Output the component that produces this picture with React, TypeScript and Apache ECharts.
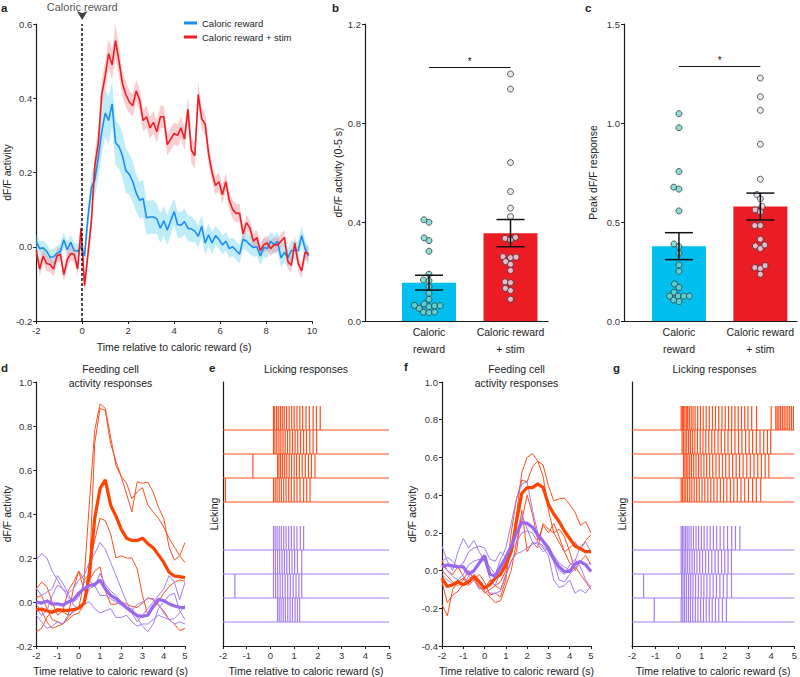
import React, { useEffect, useRef } from 'react';
import * as echarts from 'echarts';

const FONT = '"Liberation Sans", Arial, Helvetica, sans-serif';
const TXT = '#222';
const AXIS = '#1a1a1a';

// ---------------- Panel a ----------------
const aLegend = ['Caloric reward', 'Caloric reward + stim'];
const aEventLabel = 'Caloric reward';
const aXTitle = 'Time relative to caloric reward (s)';
const aYTitle = 'dF/F activity';
const aTimeStart = -2;
const aTimeStep = 0.15;
const aBlue = [
  0.014, -0.005, -0.003, -0.012, -0.028, -0.027, -0.018, -0.012, 0.019, -0.008,
  0.012, -0.01, -0.012, 0.0, -0.025, 0.08, 0.16, 0.18, 0.24, 0.31,
  0.36, 0.34, 0.385, 0.28, 0.27, 0.245, 0.205, 0.195, 0.175, 0.145,
  0.125, 0.13, 0.078, 0.08, 0.08, 0.075, 0.05, 0.07, 0.045, 0.07,
  0.095, 0.06, 0.058, 0.068, 0.05, 0.048, 0.042, 0.028, 0.055, 0.01,
  0.032, 0.01, 0.03, 0.02, 0.005, 0.015, -0.005, 0.0, -0.01, -0.02,
  0.02, 0.015, 0.005, -0.002, 0.0, -0.025, -0.002, -0.005, 0.015, 0.005,
  0.015, -0.03, -0.015, -0.03, -0.01, -0.01, -0.01, 0.03, -0.005, -0.025,
];
const aRed = [
  -0.01, -0.06, -0.025, -0.045, -0.048, -0.06, -0.025, -0.02, -0.075, -0.035,
  -0.018, -0.02, -0.06, 0.05, -0.105, -0.02, 0.07, 0.22, 0.28, 0.41,
  0.46, 0.52, 0.49, 0.555, 0.5, 0.44, 0.41, 0.39, 0.38, 0.42,
  0.395, 0.34, 0.35, 0.32, 0.335, 0.31, 0.35, 0.35, 0.275, 0.29,
  0.305, 0.3, 0.32, 0.29, 0.37, 0.26, 0.245, 0.41, 0.345, 0.33,
  0.25, 0.2, 0.165, 0.175, 0.14, 0.175, 0.125, 0.1, 0.09, 0.09,
  0.035, 0.065, 0.05, 0.015, 0.025, -0.01, 0.005, 0.01, -0.005, 0.005,
  0.005, 0.015, 0.025, -0.04, -0.05, 0.01, -0.045, -0.065, -0.015, -0.02,
];
const aBlueSem = [
  0.02, 0.02, 0.02, 0.02, 0.02, 0.02, 0.02, 0.02, 0.02, 0.02,
  0.02, 0.02, 0.02, 0.02, 0.02, 0.03, 0.035, 0.045, 0.055, 0.06,
  0.065, 0.065, 0.06, 0.06, 0.06, 0.06, 0.06, 0.055, 0.055, 0.05,
  0.05, 0.05, 0.045, 0.045, 0.045, 0.04, 0.04, 0.04, 0.04, 0.04,
  0.035, 0.035, 0.035, 0.035, 0.035, 0.035, 0.03, 0.03, 0.03, 0.03,
  0.03, 0.03, 0.025, 0.025, 0.025, 0.025, 0.025, 0.025, 0.025, 0.025,
  0.025, 0.025, 0.025, 0.025, 0.025, 0.025, 0.025, 0.025, 0.025, 0.025,
  0.025, 0.025, 0.025, 0.025, 0.025, 0.025, 0.025, 0.025, 0.025, 0.025,
];
const aRedSem = [
  0.02, 0.02, 0.02, 0.02, 0.02, 0.02, 0.02, 0.02, 0.02, 0.02,
  0.02, 0.02, 0.02, 0.03, 0.025, 0.025, 0.03, 0.035, 0.04, 0.04,
  0.04, 0.04, 0.04, 0.045, 0.04, 0.035, 0.035, 0.03, 0.03, 0.03,
  0.03, 0.03, 0.03, 0.03, 0.03, 0.03, 0.03, 0.03, 0.03, 0.03,
  0.03, 0.03, 0.03, 0.03, 0.035, 0.035, 0.035, 0.035, 0.03, 0.03,
  0.03, 0.025, 0.025, 0.025, 0.025, 0.025, 0.025, 0.025, 0.025, 0.025,
  0.02, 0.02, 0.02, 0.02, 0.02, 0.02, 0.02, 0.02, 0.02, 0.02,
  0.02, 0.02, 0.02, 0.02, 0.02, 0.02, 0.02, 0.02, 0.02, 0.02,
];
const aTime = aBlue.map((_, i) => +(aTimeStart + i * aTimeStep).toFixed(2));

// ---------------- Panels b, c ----------------
const groupLabels = ['Caloric\nreward', 'Caloric reward\n+ stim'];
const bYTitle = 'dF/F activity (0-5 s)';
const bMeans = [0.155, 0.355];
const bSem = [0.03, 0.055];
const bBlueDots = [0.399, 0.409, 0.325, 0.336, 0.282, 0.189, 0.166, 0.163, 0.139, 0.112, 0.069, 0.063, 0.058, 0.036, 0.034, 0.036, 0.051, 0.061, 0.062, 0.088];
const bRedDots = [0.998, 0.937, 0.64, 0.523, 0.456, 0.422, 0.334, 0.328, 0.338, 0.26, 0.256, 0.258, 0.229, 0.24, 0.204, 0.158, 0.155, 0.132, 0.123, 0.088];
const bSig = 1.026;

const cYTitle = 'Peak dF/F response';
const cMeans = [0.378, 0.578];
const cSem = [0.068, 0.068];
const cBlueDots = [1.047, 0.976, 0.755, 0.676, 0.666, 0.556, 0.376, 0.389, 0.342, 0.283, 0.251, 0.187, 0.17, 0.145, 0.126, 0.126, 0.098, 0.106, 0.126, 0.126];
const cRedDots = [1.227, 1.133, 1.064, 0.893, 0.716, 0.639, 0.617, 0.578, 0.561, 0.551, 0.482, 0.482, 0.413, 0.379, 0.366, 0.384, 0.27, 0.265, 0.28, 0.236];
const cSig = 1.286;
const sigMark = '*';

// ---------------- Panels d, f ----------------
const feedTitle = 'Feeding cell\nactivity responses';
const lickTitle = 'Licking responses';
const lickYTitle = 'Licking';
const traceStart = -2;
const traceStep = 0.25;

const dOrangeMean = [-0.036, -0.032, -0.04, -0.047, -0.036, -0.038, -0.038, -0.035, -0.027, -0.006, 0.12, 0.38, 0.515, 0.555, 0.44, 0.39, 0.33, 0.29, 0.28, 0.28, 0.29, 0.265, 0.247, 0.214, 0.18, 0.135, 0.118, 0.115, 0.111];
const dPurpleMean = [0.0, -0.005, 0.005, -0.01, -0.008, -0.014, 0.0, 0.01, 0.04, 0.06, 0.075, 0.08, 0.1, 0.06, 0.03, 0.015, -0.005, -0.026, -0.044, -0.062, -0.065, -0.06, -0.02, 0.012, 0.006, -0.008, -0.018, -0.024, -0.026];
const dOrangeA = [0.06, 0.09, 0.07, 0.0, -0.06, -0.04, 0.05, 0.09, 0.14, 0.1, 0.12, 0.72, 0.88, 0.87, 0.72, 0.64, 0.57, 0.49, 0.41, 0.547, 0.54, 0.545, 0.5, 0.43, 0.38, 0.25, 0.19, 0.21, 0.27];
const dOrangeB = [0.02, 0.03, -0.03, -0.08, -0.09, -0.1, -0.07, -0.04, -0.03, 0.1, 0.45, 0.78, 0.9, 0.88, 0.75, 0.62, 0.57, 0.54, 0.47, 0.5, 0.52, 0.44, 0.41, 0.38, 0.34, 0.29, 0.25, 0.21, 0.18];
const dOrangeC = [-0.014, -0.04, -0.09, -0.12, -0.11, -0.1, -0.08, -0.06, -0.05, -0.01, 0.18, 0.28, 0.38, 0.37, 0.31, 0.2, 0.21, 0.2, 0.2, 0.15, 0.03, -0.06, -0.03, 0.0, 0.04, 0.07, 0.09, 0.1, 0.095];
const dOrangeD = [-0.135, -0.12, -0.07, -0.04, -0.03, -0.045, -0.06, 0.06, 0.14, 0.05, 0.1, 0.14, 0.16, 0.05, -0.01, -0.01, 0.0, -0.01, -0.02, -0.025, -0.005, 0.02, 0.01, -0.015, -0.04, -0.08, -0.1, -0.13, -0.12];
const dPurpleA = [0.19, 0.22, 0.2, 0.14, 0.1, 0.06, 0.04, 0.06, 0.1, 0.12, 0.18, 0.22, 0.27, 0.24, 0.18, 0.12, 0.06, 0.0, -0.05, -0.09, -0.06, -0.03, 0.0, 0.03, 0.06, 0.12, 0.09, 0.01, 0.09];
const dPurpleB = [-0.03, -0.06, -0.04, 0.03, 0.077, 0.06, 0.02, 0.0, 0.02, 0.09, 0.1, 0.07, 0.13, 0.08, 0.05, 0.03, 0.0, -0.03, -0.03, -0.07, -0.11, -0.135, -0.1, -0.03, 0.0, 0.03, 0.04, -0.04, -0.08];
const dPurpleC = [-0.06, -0.09, -0.12, -0.11, -0.09, -0.1, -0.06, -0.045, -0.03, -0.01, 0.0, -0.03, -0.05, -0.04, -0.03, -0.07, -0.07, -0.06, -0.09, -0.11, -0.1, -0.1, -0.08, -0.06, -0.07, -0.08, -0.1, -0.09, -0.1];
const dPurpleD = [0.062, 0.03, 0.045, 0.06, 0.12, 0.085, 0.04, -0.015, -0.03, 0.0, 0.06, 0.075, 0.03, 0.03, 0.015, 0.0, -0.014, -0.03, -0.04, -0.01, 0.0, 0.015, 0.016, -0.01, -0.05, -0.08, -0.075, -0.05, -0.014];

const fOrangeMean = [-0.04, -0.085, -0.075, -0.06, -0.075, -0.06, -0.03, -0.06, -0.094, -0.075, -0.04, -0.02, 0.03, 0.1, 0.26, 0.41, 0.44, 0.44, 0.46, 0.44, 0.35, 0.3, 0.26, 0.21, 0.17, 0.13, 0.115, 0.1, 0.1];
const fPurpleMean = [0.02, 0.03, 0.025, 0.02, 0.02, -0.02, 0.0, 0.04, 0.08, -0.02, -0.03, 0.02, 0.07, 0.13, 0.2, 0.255, 0.25, 0.23, 0.19, 0.155, 0.12, 0.06, 0.02, -0.005, -0.005, 0.035, 0.048, 0.03, -0.005];
const fOrangeA = [-0.06, -0.17, -0.13, -0.11, -0.07, -0.05, -0.04, -0.08, -0.12, -0.1, -0.08, -0.06, 0.0, 0.1, 0.3, 0.52, 0.6, 0.62, 0.58, 0.56, 0.45, 0.37, 0.38, 0.385, 0.35, 0.31, 0.24, 0.26, 0.2];
const fOrangeB = [-0.18, -0.24, -0.1, -0.06, -0.04, -0.08, -0.05, -0.02, -0.06, -0.13, -0.12, -0.14, -0.05, 0.2, 0.38, 0.48, 0.47, 0.55, 0.58, 0.5, 0.32, 0.2, 0.15, 0.1, 0.12, 0.15, 0.11, 0.16, 0.19];
const fOrangeC = [0.05, 0.0, -0.02, 0.02, -0.03, -0.07, -0.02, -0.05, -0.11, -0.14, -0.17, -0.16, -0.08, 0.0, 0.15, 0.27, 0.4, 0.3, 0.16, 0.24, 0.2, 0.25, 0.18, 0.1, 0.04, 0.02, -0.02, -0.06, -0.1];
const fOrangeD = [0.0, -0.03, -0.06, -0.08, -0.05, 0.0, -0.05, -0.09, -0.1, -0.05, -0.08, -0.1, -0.02, 0.05, 0.1, 0.32, 0.1, 0.15, 0.12, 0.25, 0.22, 0.2, 0.22, 0.18, 0.1, 0.0, 0.05, 0.08, 0.03];
const fPurpleA = [0.13, 0.05, 0.0, 0.1, 0.17, 0.12, 0.16, 0.1, 0.05, 0.02, -0.02, 0.06, 0.12, 0.25, 0.38, 0.46, 0.47, 0.32, 0.2, 0.15, 0.1, 0.05, -0.05, -0.06, -0.02, 0.01, 0.05, 0.03, 0.04];
const fPurpleB = [0.05, 0.07, 0.05, 0.02, 0.04, 0.1, 0.12, 0.13, 0.12, 0.06, 0.05, 0.1, 0.07, 0.1, 0.15, 0.2, 0.21, 0.2, 0.15, 0.12, 0.08, -0.05, -0.09, -0.08, -0.05, -0.12, -0.1, -0.12, -0.08];
const fPurpleC = [-0.02, -0.05, -0.07, -0.05, -0.08, -0.03, -0.05, -0.1, -0.08, -0.12, -0.12, -0.11, -0.03, 0.05, 0.09, 0.1, 0.12, 0.14, 0.15, 0.13, 0.1, 0.05, 0.0, -0.02, 0.03, 0.06, 0.02, -0.05, -0.09];
const fPurpleD = [0.03, 0.0, -0.03, -0.05, -0.02, 0.03, 0.05, 0.06, 0.05, -0.04, -0.08, 0.0, 0.05, 0.1, 0.2, 0.3, 0.22, 0.15, 0.14, 0.1, 0.12, 0.08, 0.04, 0.02, 0.0, 0.05, 0.13, 0.15, 0.1];

const traceTime = dOrangeMean.map((_, i) => traceStart + i * traceStep);

// ---------------- Panels e, g (lick times, s) ----------------
const orangeRows = [9, 8, 7, 6];
const purpleRows = [4, 3, 2, 1];
const eOrange = [
  [0.13, 0.18, 0.26, 0.33, 0.42, 0.5, 0.58, 0.68, 0.79, 0.9, 1.0, 1.12, 1.24, 1.36, 1.5, 1.64, 1.8, 1.94, 2.1],
  [0.13, 0.19, 0.27, 0.36, 0.44, 0.53, 0.62, 0.72, 0.82, 0.93, 1.04, 1.15, 1.27, 1.4, 1.52, 1.66, 1.8, 1.95],
  [-0.74, 0.3, 0.36, 0.43, 0.51, 0.6, 0.69, 0.79, 0.89, 1.0, 1.1, 1.22, 1.34, 1.47, 1.6, 1.73, 1.88],
  [-1.9, 0.13, 0.2, 0.28, 0.37, 0.46, 0.56, 0.66, 0.77, 0.88, 1.0, 1.12, 1.25, 1.4, 1.53, 1.67],
];
const ePurple = [
  [0.13, 0.2, 0.28, 0.37, 0.46, 0.56, 0.66, 0.77, 0.88, 1.0, 1.12, 1.26, 1.4],
  [0.13, 0.21, 0.3, 0.39, 0.49, 0.59, 0.69, 0.8, 0.91, 1.02, 1.14, 1.32],
  [-1.5, 0.13, 0.22, 0.31, 0.41, 0.51, 0.62, 0.73, 0.84, 0.96, 1.08, 1.2, 1.32],
  [0.3, 0.37, 0.45, 0.54, 0.63, 0.73, 0.83, 0.93, 1.04, 1.14, 1.23],
];
const gOrange = [
  [0.12, 0.17, 0.22, 0.28, 0.34, 0.4, 0.47, 0.55, 0.63, 0.72, 0.83, 0.95, 1.07, 1.2, 1.33, 1.47, 1.6, 1.74, 1.88, 2.02, 2.16, 2.3, 2.44, 2.58, 2.72, 2.86, 3.0, 3.16, 3.37, 4.0, 4.2, 4.26, 4.33, 4.4, 4.48, 4.56, 4.64, 4.72, 4.8, 4.88, 4.96],
  [0.16, 0.22, 0.29, 0.36, 0.44, 0.52, 0.61, 0.71, 0.82, 0.94, 1.06, 1.18, 1.31, 1.44, 1.57, 1.71, 1.85, 2.0, 2.14, 2.29, 2.44, 2.59, 2.74, 2.9, 3.05, 3.2, 3.36, 3.52, 3.68, 3.84, 3.98],
  [0.22, 0.28, 0.34, 0.41, 0.49, 0.57, 0.66, 0.76, 0.87, 0.98, 1.1, 1.22, 1.35, 1.48, 1.62, 1.76, 1.9, 2.04, 2.19, 2.34, 2.49, 2.64, 2.79, 2.95, 3.1, 3.26, 3.42, 3.58, 3.74, 3.9],
  [0.12, 0.18, 0.25, 0.32, 0.4, 0.49, 0.58, 0.68, 0.79, 0.9, 1.02, 1.14, 1.27, 1.4, 1.53, 1.67, 1.81, 1.95, 2.09, 2.24, 2.39, 2.54, 2.7, 2.86, 3.02, 3.2, 3.36, 3.55],
];
const gPurple = [
  [0.12, 0.18, 0.24, 0.31, 0.38, 0.46, 0.55, 0.65, 0.76, 0.87, 0.99, 1.11, 1.24, 1.37, 1.51, 1.65, 1.8, 1.96, 2.12, 2.3, 2.46, 2.65],
  [0.12, 0.18, 0.25, 0.32, 0.4, 0.49, 0.59, 0.69, 0.8, 0.92, 1.04, 1.17, 1.3, 1.44, 1.58, 1.72, 1.86, 2.0, 2.14, 2.29],
  [-1.5, 0.14, 0.2, 0.27, 0.35, 0.44, 0.53, 0.63, 0.74, 0.86, 0.98, 1.1, 1.23, 1.36, 1.5, 1.64, 1.79, 1.94, 2.1, 2.29],
  [-1.04, 0.12, 0.19, 0.26, 0.34, 0.43, 0.52, 0.62, 0.73, 0.84, 0.96, 1.08, 1.2, 1.33, 1.46, 1.6, 1.74, 1.9, 2.07],
];

// ---------------- colours ----------------
const C_BLUE_LINE = '#1b8ef2';
const C_RED_LINE = '#ee1c25';
const C_BLUE_BAND = 'rgba(110,212,240,0.45)';
const C_RED_BAND = 'rgba(240,125,135,0.38)';
const C_BAR_BLUE = '#00bfee';
const C_BAR_RED = '#ec1c24';
const C_DOT_BLUE = '#6fd7cc';
const C_DOT_RED = '#ecdff0';
const C_ORANGE = '#ff4f1f';
const C_PURPLE = '#a47cf2';

// ---------------- layout helpers ----------------
const GRIDS = [
  { left: 36, top: 24, width: 276, height: 297 },
  { left: 365, top: 24, width: 183, height: 297 },
  { left: 624, top: 24, width: 173, height: 297 },
  { left: 36, top: 382, width: 149, height: 264 },
  { left: 223, top: 382, width: 166, height: 264 },
  { left: 442, top: 382, width: 149, height: 264 },
  { left: 632, top: 382, width: 165, height: 264 },
];

function axisBase(gi: number): any {
  return {
    gridIndex: gi,
    type: 'value',
    axisLine: { show: true, onZero: false, lineStyle: { color: AXIS, width: 1.2 } },
    axisTick: { show: true, length: 3, lineStyle: { color: AXIS, width: 1 } },
    axisLabel: { fontSize: 9.5, color: '#333', fontFamily: FONT, margin: 4 },
    splitLine: { show: false },
    nameLocation: 'middle',
    nameTextStyle: { fontSize: 10.5, color: TXT, fontFamily: FONT },
  };
}

function swarm(values: number[], pxPerY: number, d: number): number[] {
  const order = values.map((_, i) => i).sort((a, b) => values[a] - values[b]);
  const placed: { x: number; y: number }[] = [];
  const out = new Array(values.length).fill(0);
  for (const i of order) {
    const y = values[i] * pxPerY;
    const cands = [0];
    for (const p of placed) {
      const dy = Math.abs(p.y - y);
      if (dy < d) {
        const dx = Math.sqrt(d * d - dy * dy);
        cands.push(p.x - dx, p.x + dx);
      }
    }
    cands.sort((a, b) => Math.abs(a) - Math.abs(b) || a - b);
    let chosen = 0;
    for (const c of cands) {
      if (placed.every((p) => (p.x - c) ** 2 + (p.y - y) ** 2 >= d * d - 0.01)) {
        chosen = c;
        break;
      }
    }
    placed.push({ x: chosen, y });
    out[i] = chosen;
  }
  return out;
}

function bandSeries(gi: number, time: number[], mean: number[], sem: number[], fill: string) {
  return {
    type: 'custom',
    xAxisIndex: gi,
    yAxisIndex: gi,
    silent: true,
    z: 1,
    data: [[time[0], mean[0]]],
    renderItem: (_p: any, api: any) => {
      const up = time.map((t, i) => api.coord([t, mean[i] + sem[i]]));
      const lo = time.map((t, i) => api.coord([t, mean[i] - sem[i]])).reverse();
      return { type: 'polygon', shape: { points: up.concat(lo) }, style: { fill } };
    },
  };
}

function lineSeries(gi: number, time: number[], vals: number[], color: string, width: number, z: number, name?: string) {
  const s: any = {
    type: 'line',
    xAxisIndex: gi,
    yAxisIndex: gi,
    data: time.map((t, i) => [t, vals[i]]),
    showSymbol: false,
    symbol: 'none',
    color,
    lineStyle: { color, width },
    z,
    silent: true,
  };
  if (name) s.name = name;
  return s;
}

function dotSeries(gi: number, groupX: number, vals: number[], pxPerX: number, pxPerY: number, fill: string) {
  const off = swarm(vals, pxPerY, 5.6);
  return {
    type: 'scatter',
    xAxisIndex: gi,
    yAxisIndex: gi,
    data: vals.map((v, i) => [groupX + off[i] / pxPerX, v]),
    symbol: 'circle',
    symbolSize: 6,
    itemStyle: { color: fill, borderColor: '#3a3a3a', borderWidth: 1 },
    z: 4,
    silent: true,
  };
}

function errSeries(gi: number, means: number[], sems: number[]) {
  return {
    type: 'custom',
    xAxisIndex: gi,
    yAxisIndex: gi,
    silent: true,
    z: 5,
    data: means.map((m, i) => [i, m - sems[i], m + sems[i]]),
    encode: { x: 0, y: [1, 2] },
    renderItem: (_p: any, api: any) => {
      const x = api.value(0);
      const lo = api.coord([x, api.value(1)]);
      const hi = api.coord([x, api.value(2)]);
      const w = 14;
      const st = { stroke: '#111', lineWidth: 1.5 };
      return {
        type: 'group',
        children: [
          { type: 'line', shape: { x1: lo[0], y1: lo[1], x2: hi[0], y2: hi[1] }, style: st },
          { type: 'line', shape: { x1: lo[0] - w, y1: lo[1], x2: lo[0] + w, y2: lo[1] }, style: st },
          { type: 'line', shape: { x1: hi[0] - w, y1: hi[1], x2: hi[0] + w, y2: hi[1] }, style: st },
        ],
      };
    },
  };
}

function barSeries(gi: number, means: number[], sig: number) {
  return {
    type: 'bar',
    xAxisIndex: gi,
    yAxisIndex: gi,
    barWidth: 54,
    silent: true,
    z: 2,
    data: means.map((m, i) => ({ value: [i, m], itemStyle: { color: i === 0 ? C_BAR_BLUE : C_BAR_RED } })),
    markLine: {
      silent: true,
      symbol: ['none', 'none'],
      lineStyle: { color: '#111', width: 1.2, type: 'solid' },
      label: { show: true, position: 'middle', formatter: sigMark, fontSize: 10, color: '#111', distance: 1 },
      data: [[{ coord: [0, sig] }, { coord: [1, sig] }]],
    },
  };
}

function rasterTicks(gi: number, rows: number[][], bases: number[], color: string) {
  const data: number[][] = [];
  rows.forEach((r, k) => r.forEach((t) => data.push([t, bases[k]])));
  return {
    type: 'custom',
    xAxisIndex: gi,
    yAxisIndex: gi,
    silent: true,
    z: 3,
    data,
    renderItem: (_p: any, api: any) => {
      const t = api.value(0);
      const b = api.value(1);
      const p0 = api.coord([t, b]);
      const p1 = api.coord([t, b + 1]);
      return { type: 'line', shape: { x1: p0[0], y1: p0[1], x2: p1[0], y2: p1[1] }, style: { stroke: color, lineWidth: 1.2 } };
    },
  };
}

const rasterXMin = -2;
const rasterXMax = 5;
function rasterBases(gi: number, bases: number[], color: string) {
  return {
    type: 'custom',
    xAxisIndex: gi,
    yAxisIndex: gi,
    silent: true,
    z: 3,
    data: bases.map((b) => [rasterXMin, b]),
    renderItem: (_p: any, api: any) => {
      const b = api.value(1);
      const p0 = api.coord([rasterXMin, b]);
      const p1 = api.coord([rasterXMax, b]);
      return { type: 'line', shape: { x1: p0[0], y1: p0[1], x2: p1[0], y2: p1[1] }, style: { stroke: color, lineWidth: 1 } };
    },
  };
}

function text(t: string, x: number, y: number, size: number, bold: boolean, align: string, lineHeight?: number) {
  return {
    type: 'text',
    x,
    y,
    silent: true,
    style: {
      text: t,
      fontSize: size,
      fontFamily: FONT,
      fontWeight: bold ? 'bold' : 'normal',
      fill: TXT,
      align,
      textAlign: align,
      verticalAlign: 'top',
      textVerticalAlign: 'top',
      lineHeight: lineHeight || size * 1.2,
    },
  };
}

function buildOption() {
  const fmt1 = (v: number) => v.toFixed(1);
  const catFmt = (v: number) => (Math.abs(v) < 1e-6 ? groupLabels[0] : Math.abs(v - 1) < 1e-6 ? groupLabels[1] : '');
  const catAxis = (gi: number, min: number, max: number) => ({
    ...axisBase(gi),
    min,
    max,
    axisTick: { show: false },
    axisLabel: {
      fontSize: 10.5,
      color: TXT,
      fontFamily: FONT,
      margin: 2,
      lineHeight: 17,
      customValues: [0, 1],
      formatter: catFmt,
    },
  });

  const bPxX = GRIDS[1].width / (1.46 + 0.785);
  const bPxY = GRIDS[1].height / 1.2;
  const cPxX = GRIDS[2].width / (1.45 + 0.675);
  const cPxY = GRIDS[2].height / 1.5;

  const xAxis = [
    { ...axisBase(0), min: -2, max: 10, interval: 2, name: aXTitle, nameGap: 20 },
    catAxis(1, -0.785, 1.46),
    catAxis(2, -0.675, 1.45),
    { ...axisBase(3), min: -2, max: 5, interval: 1, name: aXTitle, nameGap: 19 },
    { ...axisBase(4), min: rasterXMin, max: rasterXMax, interval: 1, name: aXTitle, nameGap: 19 },
    { ...axisBase(5), min: -2, max: 5, interval: 1, name: aXTitle, nameGap: 19 },
    { ...axisBase(6), min: rasterXMin, max: rasterXMax, interval: 1, name: aXTitle, nameGap: 19 },
  ];
  const yLab = (f: any) => ({ fontSize: 9.5, color: '#333', fontFamily: FONT, margin: 4, formatter: f });
  const yAxis = [
    { ...axisBase(0), min: -0.2, max: 0.6, interval: 0.2, axisLabel: yLab(fmt1), name: aYTitle, nameGap: 22, nameRotate: 90 },
    { ...axisBase(1), min: 0, max: 1.2, interval: 0.4, axisLabel: yLab(fmt1), name: bYTitle, nameGap: 15, nameRotate: 90 },
    { ...axisBase(2), min: 0, max: 1.5, interval: 0.5, axisLabel: yLab(fmt1), name: cYTitle, nameGap: 26, nameRotate: 90 },
    { ...axisBase(3), min: -0.2, max: 1.0, interval: 0.2, axisLabel: yLab(fmt1), name: aYTitle, nameGap: 23, nameRotate: 90 },
    { ...axisBase(4), min: 0, max: 11, axisTick: { show: false }, axisLabel: { show: false }, name: lickYTitle, nameGap: 4, nameRotate: 90 },
    { ...axisBase(5), min: -0.4, max: 1.0, interval: 0.2, axisLabel: yLab(fmt1), name: aYTitle, nameGap: 23, nameRotate: 90 },
    { ...axisBase(6), min: 0, max: 11, axisTick: { show: false }, axisLabel: { show: false }, name: lickYTitle, nameGap: 5, nameRotate: 90 },
  ];

  const series: any[] = [
    // a
    bandSeries(0, aTime, aBlue, aBlueSem, C_BLUE_BAND),
    bandSeries(0, aTime, aRed, aRedSem, C_RED_BAND),
    lineSeries(0, aTime, aBlue, C_BLUE_LINE, 1.6, 3, aLegend[0]),
    lineSeries(0, aTime, aRed, C_RED_LINE, 1.6, 4, aLegend[1]),
    {
      type: 'scatter',
      xAxisIndex: 0,
      yAxisIndex: 0,
      data: [[0, 0.6]],
      symbol: 'arrow',
      symbolSize: [8, 9],
      symbolRotate: 180,
      symbolOffset: [0, -4],
      itemStyle: { color: '#111' },
      clip: false,
      silent: true,
      z: 6,
      label: {
        show: true,
        position: 'top',
        distance: 0,
        offset: [0, 1],
        formatter: aEventLabel,
        fontSize: 11,
        lineHeight: 11,
        color: TXT,
        fontFamily: FONT,
      },
      markLine: {
        silent: true,
        symbol: ['none', 'none'],
        label: { show: false },
        lineStyle: { color: '#111', width: 1.5, type: [3, 2] },
        data: [{ xAxis: 0 }],
      },
    },
    // b
    barSeries(1, bMeans, bSig),
    dotSeries(1, 0, bBlueDots, bPxX, bPxY, C_DOT_BLUE),
    dotSeries(1, 1, bRedDots, bPxX, bPxY, C_DOT_RED),
    errSeries(1, bMeans, bSem),
    // c
    barSeries(2, cMeans, cSig),
    dotSeries(2, 0, cBlueDots, cPxX, cPxY, C_DOT_BLUE),
    dotSeries(2, 1, cRedDots, cPxX, cPxY, C_DOT_RED),
    errSeries(2, cMeans, cSem),
    // d
    ...[dOrangeA, dOrangeB, dOrangeC, dOrangeD].map((v) => lineSeries(3, traceTime, v, C_ORANGE, 1, 2)),
    ...[dPurpleA, dPurpleB, dPurpleC, dPurpleD].map((v) => lineSeries(3, traceTime, v, C_PURPLE, 1, 2)),
    lineSeries(3, traceTime, dOrangeMean, '#ff4400', 3.2, 4),
    lineSeries(3, traceTime, dPurpleMean, '#9a68ee', 3.2, 5),
    // e
    rasterBases(4, orangeRows, C_ORANGE),
    rasterBases(4, purpleRows, C_PURPLE),
    rasterTicks(4, eOrange, orangeRows, C_ORANGE),
    rasterTicks(4, ePurple, purpleRows, C_PURPLE),
    // f
    ...[fOrangeA, fOrangeB, fOrangeC, fOrangeD].map((v) => lineSeries(5, traceTime, v, C_ORANGE, 1, 2)),
    ...[fPurpleA, fPurpleB, fPurpleC, fPurpleD].map((v) => lineSeries(5, traceTime, v, C_PURPLE, 1, 2)),
    lineSeries(5, traceTime, fOrangeMean, '#ff4400', 3.2, 4),
    lineSeries(5, traceTime, fPurpleMean, '#9a68ee', 3.2, 5),
    // g
    rasterBases(6, orangeRows, C_ORANGE),
    rasterBases(6, purpleRows, C_PURPLE),
    rasterTicks(6, gOrange, orangeRows, C_ORANGE),
    rasterTicks(6, gPurple, purpleRows, C_PURPLE),
  ];

  const graphic = [
    text('a', 1, 1, 11.5, true, 'left'),
    text('b', 332, 1, 11.5, true, 'left'),
    text('c', 585, 1, 11.5, true, 'left'),
    text('d', 1, 361, 11.5, true, 'left'),
    text('e', 209, 361, 11.5, true, 'left'),
    text('f', 404, 360, 11.5, true, 'left'),
    text('g', 613, 361, 11.5, true, 'left'),
    text(feedTitle, GRIDS[3].left + GRIDS[3].width / 2, 362, 10.5, false, 'center', 14),
    text(lickTitle, GRIDS[4].left + GRIDS[4].width / 2, 362, 10.5, false, 'center', 14),
    text(feedTitle, GRIDS[5].left + GRIDS[5].width / 2, 362, 10.5, false, 'center', 14),
    text(lickTitle, GRIDS[6].left + GRIDS[6].width / 2, 362, 10.5, false, 'center', 14),
  ];

  return {
    animation: false,
    backgroundColor: '#ffffff',
    textStyle: { fontFamily: FONT },
    grid: GRIDS.map((g) => ({ ...g, containLabel: false })),
    xAxis,
    yAxis,
    legend: {
      data: aLegend,
      orient: 'vertical',
      left: 184,
      top: 18,
      padding: 0,
      itemWidth: 13,
      itemHeight: 3,
      itemGap: 4,
      icon: 'rect',
      selectedMode: false,
      textStyle: { fontSize: 9.5, color: TXT, fontFamily: FONT },
    },
    graphic,
    series,
  };
}

export default function App() {
  const ref = useRef<HTMLDivElement>(null);
  useEffect(() => {
    if (!ref.current) return;
    const chart = echarts.init(ref.current, null, { renderer: 'svg' });
    chart.setOption(buildOption() as any);
    return () => chart.dispose();
  }, []);
  return (
    <div
      ref={ref}
      style={{ position: 'fixed', left: 0, top: 0, width: 800, height: 677, background: '#fff' }}
    />
  );
}
